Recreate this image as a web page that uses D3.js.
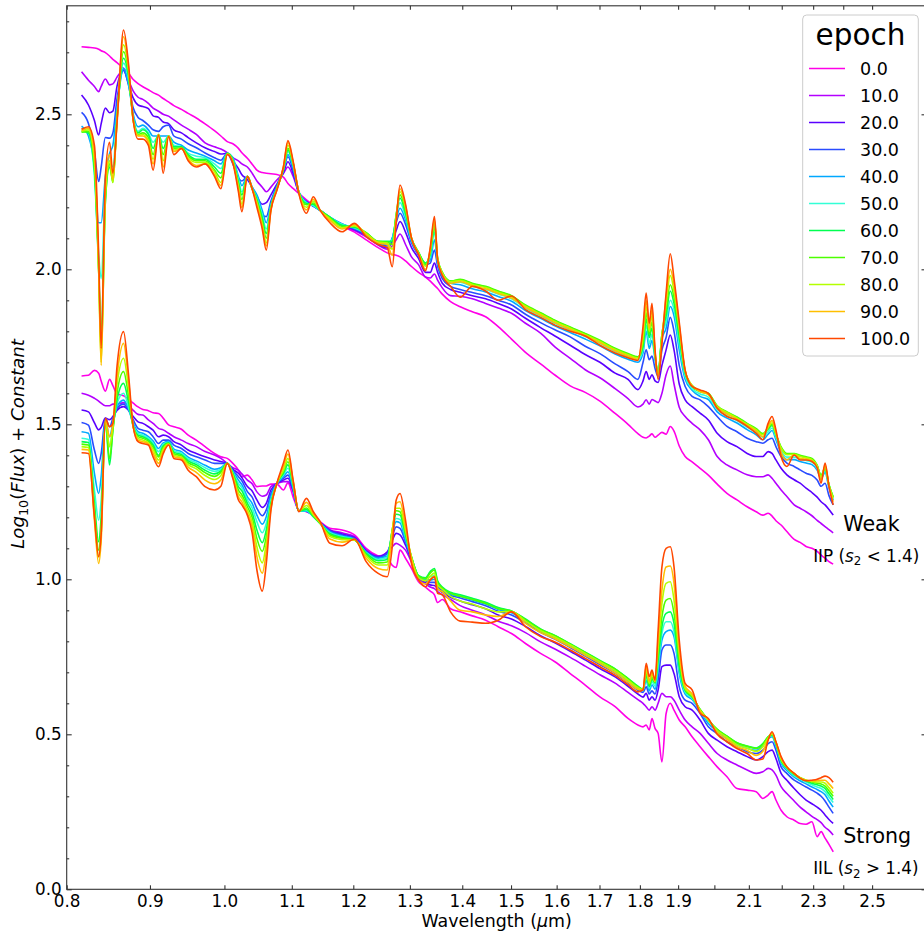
<!DOCTYPE html>
<html><head><meta charset="utf-8">
<script src="https://cdn.jsdelivr.net/npm/d3@7"></script>
<style>
body{margin:0;background:#fff}
svg{display:block}
text{font-family:"DejaVu Sans",sans-serif;fill:#000}
</style></head>
<body><svg id="chart" width="924" height="934"></svg>
<script>
// ---------------- data ----------------
const wavelength = [0.817,0.825,0.832,0.837,0.840,0.845,0.850,0.854,0.859,0.867,0.873,0.879,0.885,
0.891,0.898,0.904,0.911,0.917,0.924,0.931,0.941,0.950,0.961,0.973,0.986,0.995,
1.004,1.012,1.020,1.025,1.033,1.040,1.047,1.055,1.061,1.068,1.077,1.087,1.094,1.102,1.111,
1.123,1.134,1.145,1.161,1.181,1.202,1.222,
1.243,1.259,1.268,1.275,1.282,1.292,1.303,1.316,1.329,1.338,1.346,1.352,1.361,1.377,
1.396,1.420,1.447,1.473,1.501,1.531,1.564,1.596,1.631,1.666,1.701,1.738,1.770,1.795,
1.808,1.816,1.824,1.831,1.839,1.847,1.857,1.868,1.879,1.889,1.903,1.919,1.938,1.960,
1.983,2.008,2.036,2.065,2.095,2.122,2.142,2.158,2.170,2.182,2.198,2.216,2.239,2.258,
2.277,2.296,2.313,2.326,2.339,2.352,2.366];

const epochs = [0.0,10.0,20.0,30.0,40.0,50.0,60.0,70.0,80.0,90.0,100.0];
const epochColors = ["#ff00e8","#b400ff","#5a00ff","#2a4cff","#00a8ff","#33ffd6","#00ff50","#4cff00","#b4ff00","#ffbf00","#ff4800"];

// Weak group (IIP)
const weak_e0 = [2.718,2.716,2.714,2.710,2.705,2.699,2.688,2.677,2.667,2.648,2.633,2.612,2.599,
2.589,2.579,2.570,2.562,2.551,2.540,2.528,2.516,2.503,2.488,2.469,2.447,2.430,
2.412,2.405,2.390,2.376,2.358,2.339,2.320,2.312,2.310,2.308,2.306,2.297,2.277,2.261,2.245,
2.224,2.207,2.191,2.165,2.140,2.120,2.095,
2.070,2.053,2.048,2.045,2.040,2.027,2.009,1.990,1.975,1.962,1.948,1.938,1.920,1.896,
1.879,1.863,1.847,1.815,1.775,1.732,1.695,1.659,1.624,1.603,1.575,1.535,1.500,1.470,
1.458,1.456,1.462,1.469,1.458,1.465,1.474,1.468,1.493,1.478,1.430,1.396,1.379,1.358,
1.336,1.307,1.277,1.256,1.234,1.218,1.207,1.213,1.204,1.189,1.175,1.154,1.129,1.119,
1.106,1.100,1.090,1.078,1.068,1.057,1.049];
const weak_e10 = [2.637,2.610,2.590,2.573,2.590,2.614,2.595,2.598,2.620,2.642,2.610,2.575,2.555,
2.548,2.535,2.520,2.510,2.500,2.494,2.482,2.465,2.452,2.435,2.408,2.395,2.388,
2.376,2.360,2.350,2.340,2.330,2.310,2.285,2.265,2.250,2.265,2.288,2.310,2.330,2.300,2.247,
2.218,2.204,2.190,2.165,2.143,2.125,2.105,
2.078,2.065,2.075,2.095,2.114,2.080,2.040,2.015,1.975,1.972,1.985,1.965,1.940,1.915,
1.913,1.905,1.890,1.875,1.858,1.826,1.794,1.750,1.713,1.676,1.650,1.615,1.583,1.556,
1.565,1.579,1.565,1.580,1.575,1.570,1.600,1.660,1.688,1.630,1.555,1.525,1.503,1.482,
1.450,1.396,1.369,1.353,1.337,1.331,1.331,1.337,1.326,1.310,1.288,1.267,1.240,1.229,
1.218,1.205,1.190,1.180,1.170,1.160,1.150];
const weak_e20 = [2.562,2.530,2.480,2.433,2.470,2.520,2.505,2.510,2.590,2.642,2.600,2.552,2.530,
2.525,2.518,2.495,2.490,2.475,2.470,2.450,2.440,2.425,2.408,2.392,2.380,2.372,
2.374,2.350,2.325,2.305,2.290,2.265,2.235,2.210,2.215,2.240,2.275,2.310,2.347,2.310,2.246,
2.218,2.204,2.190,2.166,2.145,2.128,2.110,
2.080,2.070,2.090,2.125,2.154,2.120,2.070,2.035,1.990,1.990,2.020,1.990,1.955,1.935,
1.926,1.915,1.905,1.890,1.872,1.842,1.812,1.785,1.755,1.725,1.700,1.665,1.645,1.612,
1.640,1.670,1.645,1.660,1.640,1.635,1.690,1.740,1.788,1.740,1.630,1.579,1.557,1.536,
1.514,1.471,1.444,1.428,1.406,1.396,1.396,1.412,1.406,1.385,1.358,1.337,1.321,1.310,
1.294,1.280,1.265,1.250,1.240,1.225,1.207];
const weak_e30 = [2.506,2.470,2.380,2.283,2.330,2.425,2.423,2.440,2.550,2.642,2.595,2.520,2.490,
2.480,2.465,2.450,2.445,2.460,2.465,2.430,2.420,2.405,2.392,2.375,2.360,2.352,
2.374,2.340,2.295,2.285,2.299,2.260,2.225,2.175,2.170,2.220,2.270,2.320,2.363,2.320,2.246,
2.218,2.204,2.190,2.167,2.146,2.130,2.112,
2.082,2.075,2.100,2.150,2.181,2.145,2.085,2.045,2.015,2.020,2.062,2.010,1.970,1.945,
1.935,1.925,1.915,1.900,1.885,1.855,1.828,1.805,1.782,1.752,1.728,1.695,1.670,1.645,
1.700,1.740,1.708,1.720,1.680,1.655,1.740,1.780,1.845,1.800,1.690,1.622,1.590,1.579,
1.557,1.525,1.493,1.476,1.455,1.444,1.439,1.450,1.455,1.428,1.396,1.375,1.364,1.353,
1.342,1.335,1.320,1.300,1.310,1.270,1.240];
const weak_e40 = [2.462,2.430,2.330,2.150,2.150,2.300,2.374,2.400,2.520,2.648,2.600,2.500,2.460,
2.465,2.450,2.430,2.430,2.430,2.430,2.410,2.400,2.385,2.375,2.365,2.350,2.340,
2.374,2.360,2.300,2.270,2.300,2.265,2.240,2.190,2.150,2.210,2.265,2.320,2.370,2.330,2.250,
2.216,2.204,2.190,2.168,2.146,2.132,2.114,
2.085,2.080,2.100,2.160,2.197,2.160,2.090,2.050,2.020,2.030,2.095,2.020,1.980,1.955,
1.950,1.937,1.927,1.912,1.897,1.867,1.842,1.818,1.796,1.775,1.753,1.727,1.710,1.700,
1.730,1.800,1.745,1.770,1.710,1.660,1.775,1.810,1.880,1.850,1.740,1.645,1.610,1.590,
1.580,1.540,1.520,1.504,1.483,1.466,1.450,1.468,1.480,1.450,1.407,1.386,1.386,1.380,
1.375,1.370,1.352,1.325,1.345,1.295,1.255];
const weak_e50 = [2.455,2.440,2.300,2.050,1.970,2.270,2.350,2.330,2.500,2.665,2.615,2.490,2.445,
2.455,2.440,2.410,2.430,2.410,2.430,2.400,2.395,2.375,2.365,2.360,2.340,2.325,
2.374,2.355,2.290,2.250,2.300,2.262,2.230,2.175,2.130,2.205,2.262,2.320,2.380,2.335,2.250,
2.214,2.206,2.190,2.168,2.145,2.134,2.116,
2.088,2.085,2.095,2.170,2.215,2.170,2.095,2.052,2.020,2.040,2.120,2.030,1.985,1.960,
1.958,1.945,1.935,1.920,1.905,1.875,1.850,1.826,1.804,1.783,1.761,1.735,1.718,1.708,
1.740,1.820,1.760,1.790,1.715,1.665,1.785,1.830,1.900,1.870,1.760,1.655,1.615,1.598,
1.588,1.548,1.528,1.512,1.491,1.474,1.458,1.476,1.488,1.458,1.415,1.394,1.394,1.388,
1.383,1.378,1.358,1.330,1.350,1.300,1.260];
const weak_e60 = [2.445,2.440,2.320,2.000,1.800,2.220,2.330,2.290,2.490,2.681,2.625,2.485,2.440,
2.450,2.435,2.390,2.435,2.390,2.430,2.395,2.395,2.370,2.355,2.355,2.330,2.310,
2.374,2.352,2.280,2.240,2.300,2.260,2.225,2.165,2.115,2.200,2.260,2.322,2.385,2.340,2.250,
2.212,2.210,2.190,2.168,2.142,2.136,2.118,
2.090,2.090,2.090,2.175,2.230,2.180,2.100,2.055,2.020,2.050,2.135,2.035,1.990,1.962,
1.966,1.953,1.943,1.928,1.913,1.883,1.858,1.834,1.812,1.791,1.769,1.743,1.726,1.716,
1.750,1.840,1.780,1.810,1.720,1.665,1.790,1.850,1.930,1.890,1.780,1.665,1.622,1.605,
1.598,1.558,1.538,1.522,1.501,1.484,1.468,1.484,1.496,1.466,1.425,1.404,1.404,1.398,
1.392,1.387,1.366,1.335,1.356,1.305,1.265];
const weak_e70 = [2.442,2.445,2.330,2.000,1.730,2.220,2.340,2.280,2.480,2.702,2.635,2.480,2.435,
2.440,2.425,2.370,2.435,2.370,2.430,2.390,2.390,2.365,2.350,2.350,2.320,2.295,
2.374,2.350,2.275,2.225,2.300,2.260,2.220,2.155,2.100,2.198,2.260,2.325,2.390,2.342,2.248,
2.208,2.214,2.190,2.166,2.138,2.138,2.118,
2.090,2.088,2.080,2.175,2.240,2.190,2.100,2.055,2.015,2.055,2.145,2.035,1.990,1.962,
1.968,1.955,1.945,1.930,1.915,1.885,1.860,1.836,1.814,1.793,1.771,1.745,1.728,1.718,
1.760,1.860,1.790,1.830,1.725,1.665,1.790,1.870,1.950,1.910,1.800,1.670,1.625,1.608,
1.600,1.560,1.540,1.524,1.503,1.486,1.470,1.488,1.500,1.468,1.427,1.406,1.406,1.400,
1.395,1.390,1.368,1.335,1.360,1.305,1.265];
const weak_e80 = [2.445,2.450,2.350,2.000,1.700,2.240,2.350,2.280,2.480,2.724,2.645,2.480,2.432,
2.435,2.415,2.355,2.435,2.350,2.430,2.385,2.390,2.360,2.345,2.345,2.315,2.280,
2.372,2.347,2.265,2.210,2.300,2.260,2.215,2.145,2.085,2.195,2.258,2.327,2.400,2.345,2.248,
2.200,2.220,2.190,2.163,2.134,2.140,2.116,
2.088,2.085,2.065,2.170,2.250,2.200,2.100,2.052,2.010,2.060,2.155,2.035,1.988,1.960,
1.964,1.951,1.941,1.926,1.911,1.881,1.856,1.832,1.810,1.789,1.767,1.741,1.724,1.714,
1.780,1.880,1.800,1.850,1.730,1.660,1.785,1.890,1.980,1.930,1.810,1.672,1.625,1.608,
1.598,1.558,1.538,1.520,1.500,1.482,1.466,1.490,1.505,1.468,1.424,1.402,1.403,1.396,
1.392,1.386,1.366,1.330,1.363,1.303,1.262];
const weak_e90 = [2.448,2.455,2.370,2.000,1.690,2.260,2.370,2.290,2.480,2.750,2.655,2.480,2.430,
2.430,2.410,2.340,2.435,2.330,2.430,2.380,2.390,2.355,2.335,2.340,2.305,2.270,
2.371,2.345,2.260,2.200,2.300,2.260,2.210,2.140,2.075,2.192,2.256,2.330,2.410,2.345,2.247,
2.192,2.226,2.190,2.158,2.130,2.144,2.112,
2.085,2.080,2.045,2.160,2.260,2.205,2.100,2.050,2.000,2.065,2.160,2.030,1.985,1.955,
1.960,1.947,1.937,1.922,1.907,1.877,1.852,1.828,1.806,1.785,1.763,1.737,1.720,1.710,
1.800,1.900,1.810,1.870,1.735,1.655,1.775,1.910,2.000,1.950,1.820,1.673,1.624,1.606,
1.596,1.554,1.533,1.517,1.496,1.478,1.460,1.495,1.512,1.474,1.410,1.385,1.402,1.390,
1.388,1.382,1.363,1.320,1.368,1.302,1.250];
const weak_e100 = [2.452,2.460,2.400,2.050,1.745,2.300,2.410,2.310,2.470,2.772,2.665,2.480,2.420,
2.420,2.400,2.320,2.433,2.310,2.428,2.370,2.390,2.350,2.330,2.340,2.300,2.260,
2.370,2.342,2.250,2.186,2.299,2.260,2.200,2.130,2.062,2.190,2.255,2.330,2.415,2.350,2.245,
2.181,2.234,2.190,2.150,2.121,2.148,2.105,
2.080,2.070,2.008,2.150,2.272,2.210,2.100,2.048,1.995,2.070,2.170,2.030,1.980,1.945,
1.910,1.945,1.930,1.900,1.914,1.870,1.845,1.820,1.800,1.785,1.755,1.730,1.715,1.706,
1.815,1.923,1.826,1.890,1.740,1.645,1.760,1.923,2.050,1.970,1.830,1.675,1.622,1.611,
1.600,1.552,1.525,1.514,1.493,1.471,1.450,1.503,1.525,1.482,1.396,1.364,1.401,1.385,
1.385,1.380,1.360,1.310,1.375,1.300,1.240];

// Strong group (IIL)
const strong_e0 = [1.656,1.658,1.674,1.665,1.640,1.607,1.645,1.625,1.598,1.592,1.580,1.568,1.556,
1.548,1.544,1.537,1.535,1.520,1.498,1.492,1.484,1.465,1.449,1.428,1.406,1.395,
1.390,1.374,1.352,1.331,1.336,1.320,1.299,1.301,1.301,1.307,1.307,1.288,1.311,1.266,1.223,
1.218,1.207,1.186,1.165,1.159,1.143,1.100,
1.075,1.068,1.045,1.038,1.094,1.068,1.035,0.992,0.975,0.962,0.950,0.925,0.935,0.905,
0.895,0.882,0.868,0.847,0.825,0.793,0.761,0.734,0.696,0.659,0.621,0.589,0.551,0.530,
0.524,0.530,0.514,0.551,0.519,0.503,0.411,0.567,0.600,0.578,0.546,0.524,0.492,0.460,
0.428,0.395,0.363,0.325,0.320,0.315,0.293,0.304,0.315,0.288,0.255,0.234,0.223,0.212,
0.210,0.218,0.170,0.186,0.165,0.145,0.121];
const strong_e10 = [1.600,1.594,1.584,1.575,1.568,1.560,1.560,1.565,1.565,1.570,1.560,1.545,1.532,
1.530,1.514,1.503,1.487,1.482,1.471,1.460,1.449,1.438,1.428,1.412,1.401,1.390,
1.374,1.360,1.352,1.340,1.320,1.308,1.282,1.268,1.272,1.299,1.309,1.315,1.315,1.285,1.222,
1.220,1.205,1.184,1.160,1.150,1.138,1.095,
1.075,1.088,1.105,1.116,1.110,1.094,1.055,1.000,0.985,0.975,0.970,0.960,0.950,0.935,
0.915,0.900,0.885,0.865,0.850,0.828,0.798,0.775,0.748,0.720,0.692,0.665,0.635,0.612,
0.600,0.589,0.578,0.589,0.578,0.600,0.632,0.621,0.621,0.610,0.578,0.546,0.524,0.503,
0.471,0.438,0.417,0.401,0.385,0.374,0.379,0.390,0.385,0.368,0.331,0.309,0.285,0.265,
0.250,0.235,0.225,0.215,0.200,0.190,0.175];
const strong_e20 = [1.546,1.540,1.505,1.482,1.490,1.520,1.515,1.525,1.545,1.557,1.546,1.525,1.508,
1.503,1.492,1.481,1.460,1.465,1.460,1.444,1.433,1.417,1.406,1.395,1.385,1.380,
1.374,1.355,1.342,1.328,1.299,1.285,1.256,1.232,1.245,1.288,1.309,1.320,1.326,1.285,1.220,
1.220,1.204,1.183,1.158,1.146,1.135,1.092,
1.073,1.088,1.126,1.148,1.143,1.110,1.060,1.005,0.990,0.982,0.980,0.970,0.958,0.942,
0.930,0.918,0.905,0.885,0.872,0.848,0.818,0.795,0.768,0.740,0.712,0.685,0.655,0.630,
0.620,0.632,0.610,0.621,0.610,0.643,0.718,0.723,0.723,0.696,0.621,0.589,0.578,0.546,
0.503,0.481,0.460,0.444,0.428,0.417,0.428,0.444,0.449,0.422,0.374,0.352,0.325,0.305,
0.288,0.276,0.265,0.255,0.240,0.225,0.213];
const strong_e30 = [1.506,1.497,1.417,1.374,1.406,1.519,1.492,1.519,1.551,1.565,1.546,1.514,1.487,
1.481,1.476,1.460,1.438,1.449,1.449,1.433,1.422,1.406,1.395,1.385,1.374,1.374,
1.374,1.352,1.331,1.318,1.283,1.265,1.229,1.205,1.224,1.277,1.309,1.326,1.336,1.290,1.220,
1.220,1.203,1.182,1.156,1.143,1.132,1.090,
1.071,1.083,1.137,1.169,1.164,1.121,1.065,1.008,0.995,0.990,0.990,0.978,0.963,0.948,
0.940,0.928,0.915,0.897,0.885,0.860,0.829,0.807,0.780,0.752,0.725,0.697,0.666,0.642,
0.635,0.653,0.630,0.640,0.630,0.675,0.772,0.788,0.788,0.761,0.653,0.610,0.600,0.567,
0.524,0.503,0.476,0.460,0.444,0.438,0.449,0.470,0.476,0.449,0.395,0.374,0.352,0.341,
0.330,0.320,0.310,0.300,0.285,0.265,0.245];
const strong_e40 = [1.476,1.471,1.342,1.277,1.331,1.514,1.460,1.503,1.557,1.578,1.551,1.503,1.476,
1.471,1.460,1.446,1.422,1.440,1.445,1.420,1.412,1.394,1.382,1.368,1.355,1.360,
1.374,1.348,1.320,1.305,1.266,1.245,1.207,1.178,1.202,1.266,1.309,1.331,1.347,1.295,1.220,
1.220,1.202,1.181,1.153,1.140,1.130,1.088,
1.068,1.075,1.148,1.186,1.182,1.126,1.068,1.010,0.998,0.998,1.000,0.985,0.968,0.952,
0.945,0.933,0.920,0.903,0.892,0.866,0.834,0.813,0.786,0.759,0.732,0.704,0.673,0.648,
0.640,0.675,0.640,0.660,0.645,0.707,0.804,0.831,0.836,0.815,0.696,0.630,0.612,0.575,
0.535,0.510,0.485,0.467,0.455,0.448,0.462,0.485,0.492,0.462,0.408,0.383,0.362,0.350,
0.340,0.330,0.322,0.315,0.305,0.285,0.265];
const strong_e50 = [1.455,1.451,1.288,1.191,1.256,1.512,1.428,1.492,1.567,1.600,1.557,1.498,1.471,
1.465,1.455,1.440,1.412,1.435,1.442,1.415,1.407,1.388,1.376,1.360,1.348,1.355,
1.374,1.345,1.309,1.295,1.256,1.230,1.186,1.150,1.180,1.256,1.309,1.336,1.358,1.300,1.220,
1.222,1.202,1.180,1.150,1.138,1.128,1.086,
1.064,1.071,1.154,1.196,1.193,1.137,1.070,1.012,1.002,1.008,1.012,0.990,0.972,0.956,
0.948,0.937,0.924,0.907,0.896,0.870,0.838,0.817,0.790,0.763,0.736,0.709,0.677,0.652,
0.643,0.686,0.648,0.670,0.655,0.723,0.825,0.863,0.863,0.831,0.707,0.636,0.616,0.578,
0.542,0.514,0.490,0.470,0.460,0.454,0.468,0.490,0.496,0.467,0.412,0.388,0.366,0.356,
0.346,0.337,0.330,0.325,0.315,0.298,0.280];
const strong_e60 = [1.444,1.441,1.245,1.121,1.202,1.508,1.369,1.481,1.578,1.632,1.573,1.492,1.465,
1.460,1.450,1.433,1.400,1.430,1.440,1.410,1.402,1.382,1.370,1.352,1.340,1.350,
1.374,1.342,1.299,1.285,1.245,1.215,1.159,1.118,1.159,1.245,1.309,1.342,1.369,1.305,1.220,
1.225,1.203,1.180,1.147,1.135,1.127,1.084,
1.060,1.064,1.159,1.210,1.207,1.143,1.072,1.012,1.005,1.025,1.035,0.995,0.975,0.958,
0.950,0.939,0.926,0.909,0.898,0.872,0.840,0.819,0.792,0.765,0.738,0.711,0.680,0.655,
0.645,0.691,0.655,0.678,0.665,0.739,0.847,0.890,0.895,0.858,0.718,0.642,0.620,0.580,
0.546,0.516,0.494,0.473,0.462,0.456,0.470,0.492,0.498,0.470,0.415,0.391,0.370,0.359,
0.350,0.342,0.337,0.333,0.325,0.308,0.290];
const strong_e70 = [1.436,1.433,1.223,1.094,1.170,1.508,1.390,1.481,1.600,1.670,1.594,1.492,1.460,
1.455,1.445,1.426,1.395,1.425,1.438,1.405,1.398,1.376,1.364,1.344,1.332,1.345,
1.374,1.338,1.288,1.272,1.234,1.200,1.132,1.090,1.137,1.240,1.309,1.347,1.379,1.310,1.220,
1.230,1.205,1.180,1.143,1.132,1.127,1.080,
1.053,1.056,1.159,1.221,1.218,1.148,1.072,1.010,1.002,1.020,1.030,0.990,0.972,0.955,
0.945,0.935,0.922,0.905,0.897,0.870,0.838,0.818,0.791,0.764,0.737,0.710,0.679,0.654,
0.645,0.696,0.660,0.685,0.668,0.761,0.879,0.933,0.938,0.890,0.739,0.645,0.622,0.580,
0.546,0.516,0.494,0.472,0.461,0.454,0.468,0.492,0.500,0.472,0.417,0.393,0.372,0.360,
0.352,0.346,0.342,0.340,0.333,0.318,0.300];
const strong_e80 = [1.428,1.425,1.207,1.073,1.148,1.512,1.428,1.492,1.627,1.713,1.621,1.492,1.455,
1.449,1.440,1.419,1.385,1.420,1.436,1.400,1.394,1.370,1.356,1.335,1.322,1.335,
1.374,1.335,1.277,1.262,1.223,1.185,1.105,1.053,1.116,1.234,1.309,1.352,1.390,1.315,1.220,
1.238,1.208,1.182,1.138,1.128,1.127,1.075,
1.046,1.046,1.159,1.229,1.229,1.159,1.070,1.005,0.995,1.010,1.020,0.982,0.968,0.945,
0.930,0.920,0.905,0.895,0.896,0.865,0.834,0.814,0.788,0.761,0.734,0.705,0.675,0.650,
0.644,0.707,0.665,0.692,0.670,0.782,0.922,0.987,0.992,0.933,0.761,0.648,0.625,0.578,
0.546,0.512,0.490,0.466,0.455,0.445,0.460,0.488,0.502,0.474,0.420,0.394,0.373,0.360,
0.352,0.348,0.346,0.346,0.342,0.328,0.310];
const strong_e90 = [1.419,1.417,1.191,1.051,1.127,1.514,1.460,1.498,1.653,1.761,1.643,1.492,1.449,
1.444,1.437,1.408,1.374,1.412,1.435,1.395,1.390,1.362,1.345,1.320,1.308,1.320,
1.374,1.330,1.266,1.250,1.213,1.170,1.073,1.020,1.089,1.229,1.309,1.363,1.404,1.318,1.220,
1.248,1.212,1.184,1.130,1.120,1.128,1.068,
1.035,1.030,1.148,1.245,1.250,1.169,1.065,0.998,0.985,1.000,1.010,0.970,0.960,0.930,
0.900,0.895,0.885,0.880,0.895,0.858,0.828,0.808,0.782,0.755,0.728,0.698,0.668,0.645,
0.643,0.718,0.672,0.700,0.672,0.804,0.965,1.040,1.043,0.987,0.772,0.655,0.630,0.575,
0.548,0.506,0.484,0.460,0.448,0.432,0.445,0.484,0.505,0.475,0.424,0.395,0.374,0.359,
0.352,0.350,0.350,0.352,0.352,0.340,0.325];
const strong_e100 = [1.408,1.406,1.202,1.073,1.148,1.519,1.492,1.503,1.686,1.799,1.664,1.492,1.444,
1.438,1.433,1.395,1.363,1.405,1.433,1.390,1.385,1.352,1.331,1.299,1.288,1.300,
1.374,1.325,1.256,1.240,1.207,1.150,1.030,0.962,1.051,1.223,1.309,1.374,1.417,1.320,1.218,
1.261,1.218,1.186,1.116,1.108,1.130,1.057,
1.019,1.008,1.105,1.255,1.277,1.191,1.051,0.998,0.976,0.998,1.008,0.955,0.950,0.895,
0.865,0.862,0.858,0.868,0.895,0.847,0.815,0.798,0.772,0.745,0.718,0.690,0.660,0.637,
0.643,0.729,0.686,0.707,0.675,0.836,1.040,1.100,1.105,1.040,0.804,0.664,0.643,0.568,
0.551,0.500,0.476,0.454,0.438,0.417,0.420,0.481,0.508,0.476,0.428,0.395,0.374,0.358,
0.350,0.352,0.355,0.360,0.365,0.360,0.345];

const weakSeries = [weak_e0,weak_e10,weak_e20,weak_e30,weak_e40,weak_e50,weak_e60,weak_e70,weak_e80,weak_e90,weak_e100];
const strongSeries = [strong_e0,strong_e10,strong_e20,strong_e30,strong_e40,strong_e50,strong_e60,strong_e70,strong_e80,strong_e90,strong_e100];

const xTickValues = [0.8,0.9,1.0,1.1,1.2,1.3,1.4,1.5,1.6,1.7,1.8,1.9,2.0,2.1,2.2,2.3,2.4,2.5];
const xTickLabels = ["0.8","0.9","1.0","1.1","1.2","1.3","1.4","1.5","1.6","1.7","1.8","1.9","","2.1","","2.3","","2.5"];
const yMajorTicks = [0.0,0.5,1.0,1.5,2.0,2.5];
const yMinorTicks = [0.1,0.2,0.3,0.4,0.6,0.7,0.8,0.9,1.1,1.2,1.3,1.4,1.6,1.7,1.8,1.9,2.1,2.2,2.3,2.4,2.6,2.7,2.8];

// ---------------- drawing ----------------
const svg = d3.select("#chart");
const L = 66.7, R = 926.5, T = 5.8, B = 889.3;
const x = d3.scaleLog().domain([0.8, 2.7]).range([L, R]);
const y = d3.scaleLinear().domain([0, 2.85]).range([B, T]);
const axisColor = "#333";
const tickFont = 16.8;

// lines
const lineGen = d3.line().x(d => x(d[0])).y(d => y(d[1])).curve(d3.curveMonotoneX);
const gLines = svg.append("g");
[weakSeries, strongSeries].forEach(group => {
  group.forEach((vals, i) => {
    const pts = wavelength.map((w, k) => [w, vals[k]]);
    gLines.append("path").attr("d", lineGen(pts))
      .attr("fill", "none").attr("stroke", epochColors[i])
      .attr("stroke-width", 1.6).attr("stroke-linejoin", "round");
  });
});

// axes
function styleAxis(g){
  g.select(".domain").remove();
  g.selectAll(".tick line").attr("stroke", axisColor).attr("stroke-width", 1.1);
  g.selectAll(".tick text").attr("font-size", tickFont).attr("font-family", "DejaVu Sans").attr("fill", "#000");
}
const xAxis = svg.append("g").attr("transform", `translate(0,${B})`)
  .call(d3.axisBottom(x).tickValues(xTickValues).tickFormat((d, i) => xTickLabels[i]).tickSizeInner(-4).tickSizeOuter(0).tickPadding(5.5));
styleAxis(xAxis);
const xTop = svg.append("g").attr("transform", `translate(0,${T})`)
  .call(d3.axisTop(x).tickValues(xTickValues).tickFormat("").tickSizeInner(-4).tickSizeOuter(0));
styleAxis(xTop);
const yAxis = svg.append("g").attr("transform", `translate(${L},0)`)
  .call(d3.axisLeft(y).tickValues(yMajorTicks).tickFormat(d3.format(".1f")).tickSizeInner(-5).tickSizeOuter(0).tickPadding(5));
styleAxis(yAxis);
const yMinor = svg.append("g").attr("transform", `translate(${L},0)`)
  .call(d3.axisLeft(y).tickValues(yMinorTicks).tickFormat("").tickSizeInner(-2.5).tickSizeOuter(0));
styleAxis(yMinor);
const yRight = svg.append("g").attr("transform", `translate(${R},0)`)
  .call(d3.axisRight(y).tickValues(yMajorTicks).tickFormat("").tickSizeInner(-5).tickSizeOuter(0));
styleAxis(yRight);
const yRightMinor = svg.append("g").attr("transform", `translate(${R},0)`)
  .call(d3.axisRight(y).tickValues(yMinorTicks).tickFormat("").tickSizeInner(-2.5).tickSizeOuter(0));
styleAxis(yRightMinor);

// frame
svg.append("rect").attr("x", L).attr("y", T).attr("width", R - L).attr("height", B - T)
  .attr("fill", "none").attr("stroke", axisColor).attr("stroke-width", 1.1);

// axis labels
svg.append("text").attr("x", (L + R) / 2).attr("y", 927).attr("text-anchor", "middle")
  .attr("font-size", 17.4)
  .call(t => { t.append("tspan").text("Wavelength ("); t.append("tspan").attr("font-style", "italic").text("\u03bc"); t.append("tspan").text("m)"); });

const yl = svg.append("text").attr("transform", `translate(24,444) rotate(-90)`)
  .attr("text-anchor", "middle").attr("font-size", 18.2);
yl.append("tspan").attr("font-style", "italic").text("Log");
yl.append("tspan").attr("font-size", 12.8).attr("dy", 3.7).text("10");
yl.append("tspan").attr("dy", -3.7).text("(");
yl.append("tspan").attr("font-style", "italic").text("Flux");
yl.append("tspan").text(") + ");
yl.append("tspan").attr("font-style", "italic").text("Constant");

// group annotations
function annot(lbl, xv, yv, size){ svg.append("text").attr("x", x(xv)).attr("y", y(yv)).attr("font-size", size).text(lbl); }
annot("Weak", 2.4, 1.155, 20.6);
annot("Strong", 2.4, 0.148, 20.6);
function classLabel(prefix, op, xv, yv){
  const t = svg.append("text").attr("x", x(xv)).attr("y", y(yv)).attr("font-size", tickFont);
  t.append("tspan").text(prefix + " (");
  t.append("tspan").attr("font-style", "italic").text("s");
  t.append("tspan").attr("font-size", 11.8).attr("dy", 3.5).text("2");
  t.append("tspan").attr("dy", -3.5).text(" " + op + " 1.4)");
}
classLabel("IIP", "<", 2.3, 1.057);
classLabel("IIL", ">", 2.3, 0.049);

// legend
const lg = svg.append("g");
lg.append("rect").attr("x", 802.7).attr("y", 15).attr("width", 115.6).attr("height", 341).attr("rx", 4)
  .attr("fill", "#fff").attr("fill-opacity", 0.8).attr("stroke", "#cccccc").attr("stroke-width", 1);
lg.append("text").attr("x", 860.5).attr("y", 45).attr("text-anchor", "middle").attr("font-size", 29.5).text("epoch");
epochs.forEach((e, i) => {
  const cy = 68.5 + 27 * i;
  lg.append("line").attr("x1", 809).attr("x2", 845).attr("y1", cy).attr("y2", cy)
    .attr("stroke", epochColors[i]).attr("stroke-width", 1.6);
  lg.append("text").attr("x", 860).attr("y", cy + 6.4).attr("font-size", 17.5).text(e.toFixed(1));
});
</script></body></html>
